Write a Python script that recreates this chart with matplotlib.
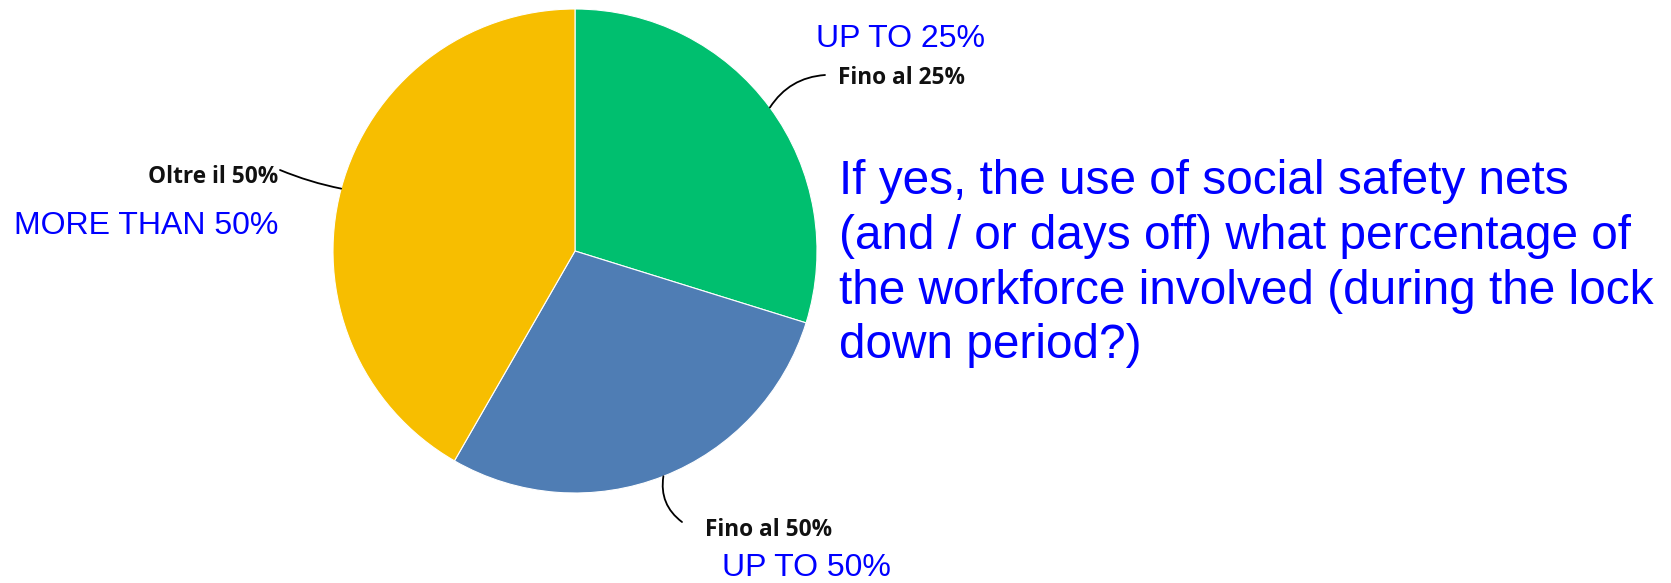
import numpy as np
import matplotlib
matplotlib.use("Agg")
import matplotlib.pyplot as plt

# data
categories = ["Fino al 25%", "Fino al 50%", "Oltre il 50%"]
english = ["UP TO 25%", "UP TO 50%", "MORE THAN 50%"]
values = [29.8, 28.5, 41.7]
colors = ["#00BF6F", "#4F7DB4", "#F7BE00"]
question = ("If yes, the use of social safety nets\n"
            "(and / or days off) what percentage of\n"
            "the workforce involved (during the lock\n"
            "down period?)")

W, H = 1671, 583
fig = plt.figure(figsize=(W / 100, H / 100), dpi=100)
ax = fig.add_axes([0, 0, 1, 1])

cx, cy, R = 575, H - 251, 242
wedges, _ = ax.pie(values, colors=colors, startangle=90, counterclock=False,
                   center=(cx, cy), radius=R,
                   wedgeprops=dict(edgecolor="white", linewidth=0.8))
ax.set_xlim(0, W)
ax.set_ylim(0, H)
ax.set_aspect("auto")
ax.axis("off")

# label positions (pixel, top-origin) and leader curvature
label_pos = [(838, 78, "left", (825, 75), 0.25),
             (705, 530, "left", (682, 522), -0.3),
             (278, 177, "right", (280, 170), 0.05)]
eng_pos = [(900, 39, "center"), (806, 568, "center"), (146, 226, "center")]

for w, lab, (lx, ly, ha, end, rad), eng, (ex, ey, eha) in zip(
        wedges, categories, label_pos, english, eng_pos):
    mid = np.deg2rad((w.theta1 + w.theta2) / 2)
    px, py = cx + R * np.cos(mid), cy + R * np.sin(mid)
    ax.annotate("", xy=(px, py), xytext=(end[0], H - end[1]),
                arrowprops=dict(arrowstyle="-", color="black", lw=1.3,
                                connectionstyle=f"arc3,rad={rad}",
                                shrinkA=0, shrinkB=0))
    ax.text(lx, H - ly, lab, ha=ha, va="center", fontsize=16.3,
            fontfamily="Open Sans", fontweight="bold", color="#111111")
    ax.text(ex, H - ey, eng, ha=eha, va="center", fontsize=23,
            fontfamily="Liberation Sans", color="#0000FF")

ax.text(839, H - 159, question, ha="left", va="top", fontsize=34.4,
        fontfamily="Liberation Sans", color="#0000FF", linespacing=1.28)

fig.savefig("out.png", dpi=100, facecolor="white")
